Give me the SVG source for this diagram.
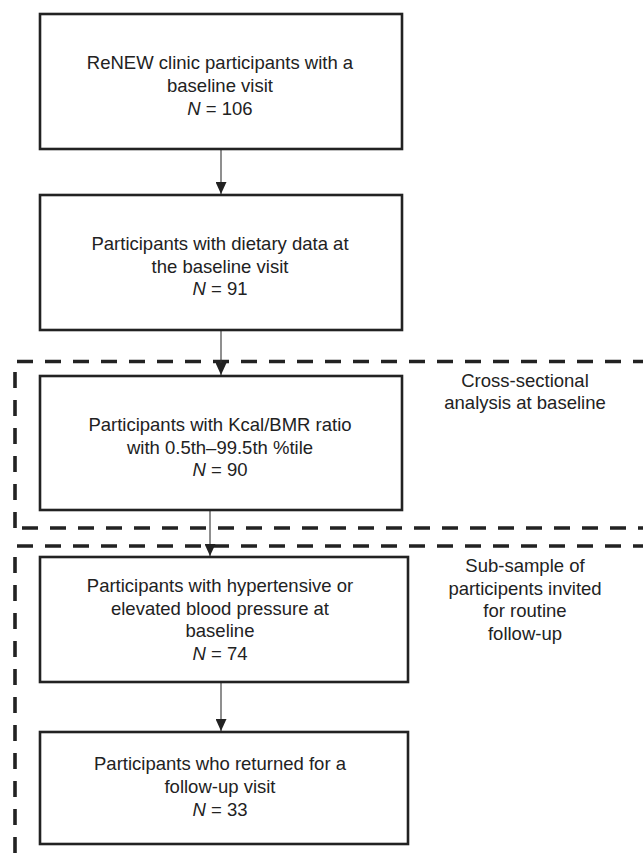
<svg xmlns="http://www.w3.org/2000/svg" width="643" height="859" viewBox="0 0 643 859">
<style>
.box{fill:#fff;stroke:#222;stroke-width:2.6}
.dash{fill:none;stroke:#222;stroke-width:3.6;stroke-dasharray:16 12}
.conn{stroke:#333;stroke-width:1.1;fill:none}
text{font-family:"Liberation Sans",Arial,sans-serif;font-size:18.5px;fill:#222;text-anchor:middle}
.i{font-style:italic}
</style>
<defs>
<marker id="ah" markerWidth="12" markerHeight="11" refX="12" refY="5.5" orient="auto" markerUnits="userSpaceOnUse" viewBox="0 0 12 11">
<path d="M0,0 L12,5.5 L0,11 Z" fill="#222"/>
</marker>
</defs>
<rect width="643" height="859" fill="#fff"/>
<g id="groups">
<path class="dash" d="M17,361.5 H643"/>
<path class="dash" d="M15,372 V528"/>
<path class="dash" d="M22,528 H643"/>
<path class="dash" d="M17,546 H643"/>
<path class="dash" d="M15,557 V859"/>
</g>
<g id="connectors">
<line class="conn" x1="221" y1="149" x2="221" y2="194" marker-end="url(#ah)"/>
<line class="conn" x1="221" y1="330" x2="221" y2="375" marker-end="url(#ah)"/>
<line class="conn" x1="210" y1="510" x2="210" y2="556" marker-end="url(#ah)"/>
<line class="conn" x1="221" y1="682" x2="221" y2="731" marker-end="url(#ah)"/>
</g>
<g id="n1">
<rect class="box" x="40" y="14" width="362" height="135"/>
<text x="220" y="69">ReNEW clinic participants with a</text>
<text x="220" y="92">baseline visit</text>
<text x="220" y="115"><tspan class="i">N</tspan> = 106</text>
</g>
<g id="n2">
<rect class="box" x="40" y="195" width="362" height="135"/>
<text x="220" y="250">Participants with dietary data at</text>
<text x="220" y="272.5">the baseline visit</text>
<text x="220" y="295"><tspan class="i">N</tspan> = 91</text>
</g>
<g id="n3">
<rect class="box" x="40" y="376" width="362" height="134"/>
<text x="220" y="431">Participants with Kcal/BMR ratio</text>
<text x="220" y="453.5">with 0.5th–99.5th %tile</text>
<text x="220" y="476"><tspan class="i">N</tspan> = 90</text>
</g>
<g id="n4">
<rect class="box" x="40" y="557" width="368" height="125"/>
<text x="220" y="592">Participants with hypertensive or</text>
<text x="220" y="614.5">elevated blood pressure at</text>
<text x="220" y="637">baseline</text>
<text x="220" y="659.5"><tspan class="i">N</tspan> = 74</text>
</g>
<g id="n5">
<rect class="box" x="40" y="732" width="368" height="112"/>
<text x="220" y="770">Participants who returned for a</text>
<text x="220" y="793">follow-up visit</text>
<text x="220" y="816"><tspan class="i">N</tspan> = 33</text>
</g>
<g id="label1">
<text x="525" y="387">Cross-sectional</text>
<text x="525" y="409">analysis at baseline</text>
</g>
<g id="label2">
<text x="525" y="572">Sub-sample of</text>
<text x="525" y="594.5">participents invited</text>
<text x="525" y="617">for routine</text>
<text x="525" y="639.5">follow-up</text>
</g>
</svg>
